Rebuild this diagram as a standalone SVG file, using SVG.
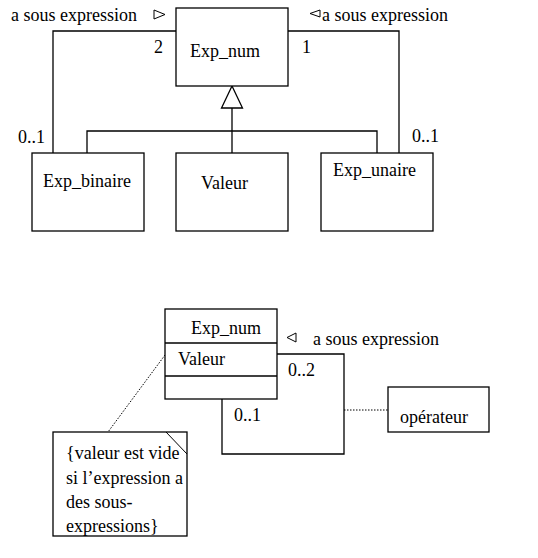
<svg xmlns="http://www.w3.org/2000/svg" width="538" height="558" viewBox="0 0 538 558">
<style>
text{font-size:18px;fill:#000}
.box{fill:#fff;stroke:#000;stroke-width:1.3}
.ln{fill:none;stroke:#000;stroke-width:1.3}
.dot{fill:none;stroke:#000;stroke-width:1;stroke-dasharray:1.5 1.5}
.tri{fill:#fff;stroke:#000;stroke-width:1}
</style>
<rect width="538" height="558" fill="#fff"/>
<g font-family="Liberation Serif, serif">
<g id="connectors">
<polyline class="ln" points="176,31 53,31 53,153"/>
<polyline class="ln" points="288,31 399,31 399,153"/>
<polyline class="ln" points="87,153 87,131 377,131 377,153"/>
<line class="ln" x1="232" y1="108" x2="232" y2="153"/>
<polygon class="tri" points="232,86 221.5,108 242.5,108" style="stroke-width:1.3"/>
<polyline class="ln" points="277,354 344,354 344,454 222,454 222,399"/>
<line class="dot" x1="344" y1="410" x2="388" y2="410"/>
<line class="dot" x1="165" y1="355" x2="108" y2="432"/>
<polygon class="tri" points="154,10 165,14.5 154,19"/>
<polygon class="tri" points="320,10 310,13.5 320,17"/>
<polygon class="tri" points="296,333 287,337.5 296,342"/>
<text x="11" y="21">a sous expression</text>
<text x="154" y="53">2</text>
<text x="302" y="53">1</text>
<text x="322" y="21">a sous expression</text>
<text x="18" y="143">0..1</text>
<text x="412" y="142">0..1</text>
<text x="313" y="345">a sous expression</text>
<text x="288" y="376">0..2</text>
<text x="234" y="421">0..1</text>
</g>
<g id="exp_num_top">
<rect class="box" x="176" y="8" width="112" height="78"/>
<text x="190" y="57">Exp_num</text>
</g>
<g id="exp_binaire">
<rect class="box" x="32" y="153" width="112" height="78"/>
<text x="43" y="187">Exp_binaire</text>
</g>
<g id="valeur">
<rect class="box" x="176" y="153" width="112" height="78"/>
<text x="201" y="189">Valeur</text>
</g>
<g id="exp_unaire">
<rect class="box" x="321" y="153" width="112" height="78"/>
<text x="333" y="176">Exp_unaire</text>
</g>
<g id="exp_num_bottom">
<rect class="box" x="165" y="309" width="112" height="90"/>
<line class="ln" x1="165" y1="343" x2="277" y2="343"/>
<line class="ln" x1="165" y1="376" x2="277" y2="376"/>
<text x="191" y="334">Exp_num</text>
<text x="178" y="365">Valeur</text>
</g>
<g id="operateur">
<rect class="box" x="388" y="387" width="101" height="45"/>
<text x="400" y="423">opérateur</text>
</g>
<g id="note">
<rect class="box" x="53" y="432" width="134" height="104"/>
<line class="ln" x1="166" y1="432" x2="187" y2="454" style="stroke-width:1"/>
<text x="66" y="459">{valeur est vide</text>
<text x="66" y="484">si l’expression a</text>
<text x="66" y="508">des sous-</text>
<text x="66" y="532">expressions}</text>
</g>
</g>
</svg>
